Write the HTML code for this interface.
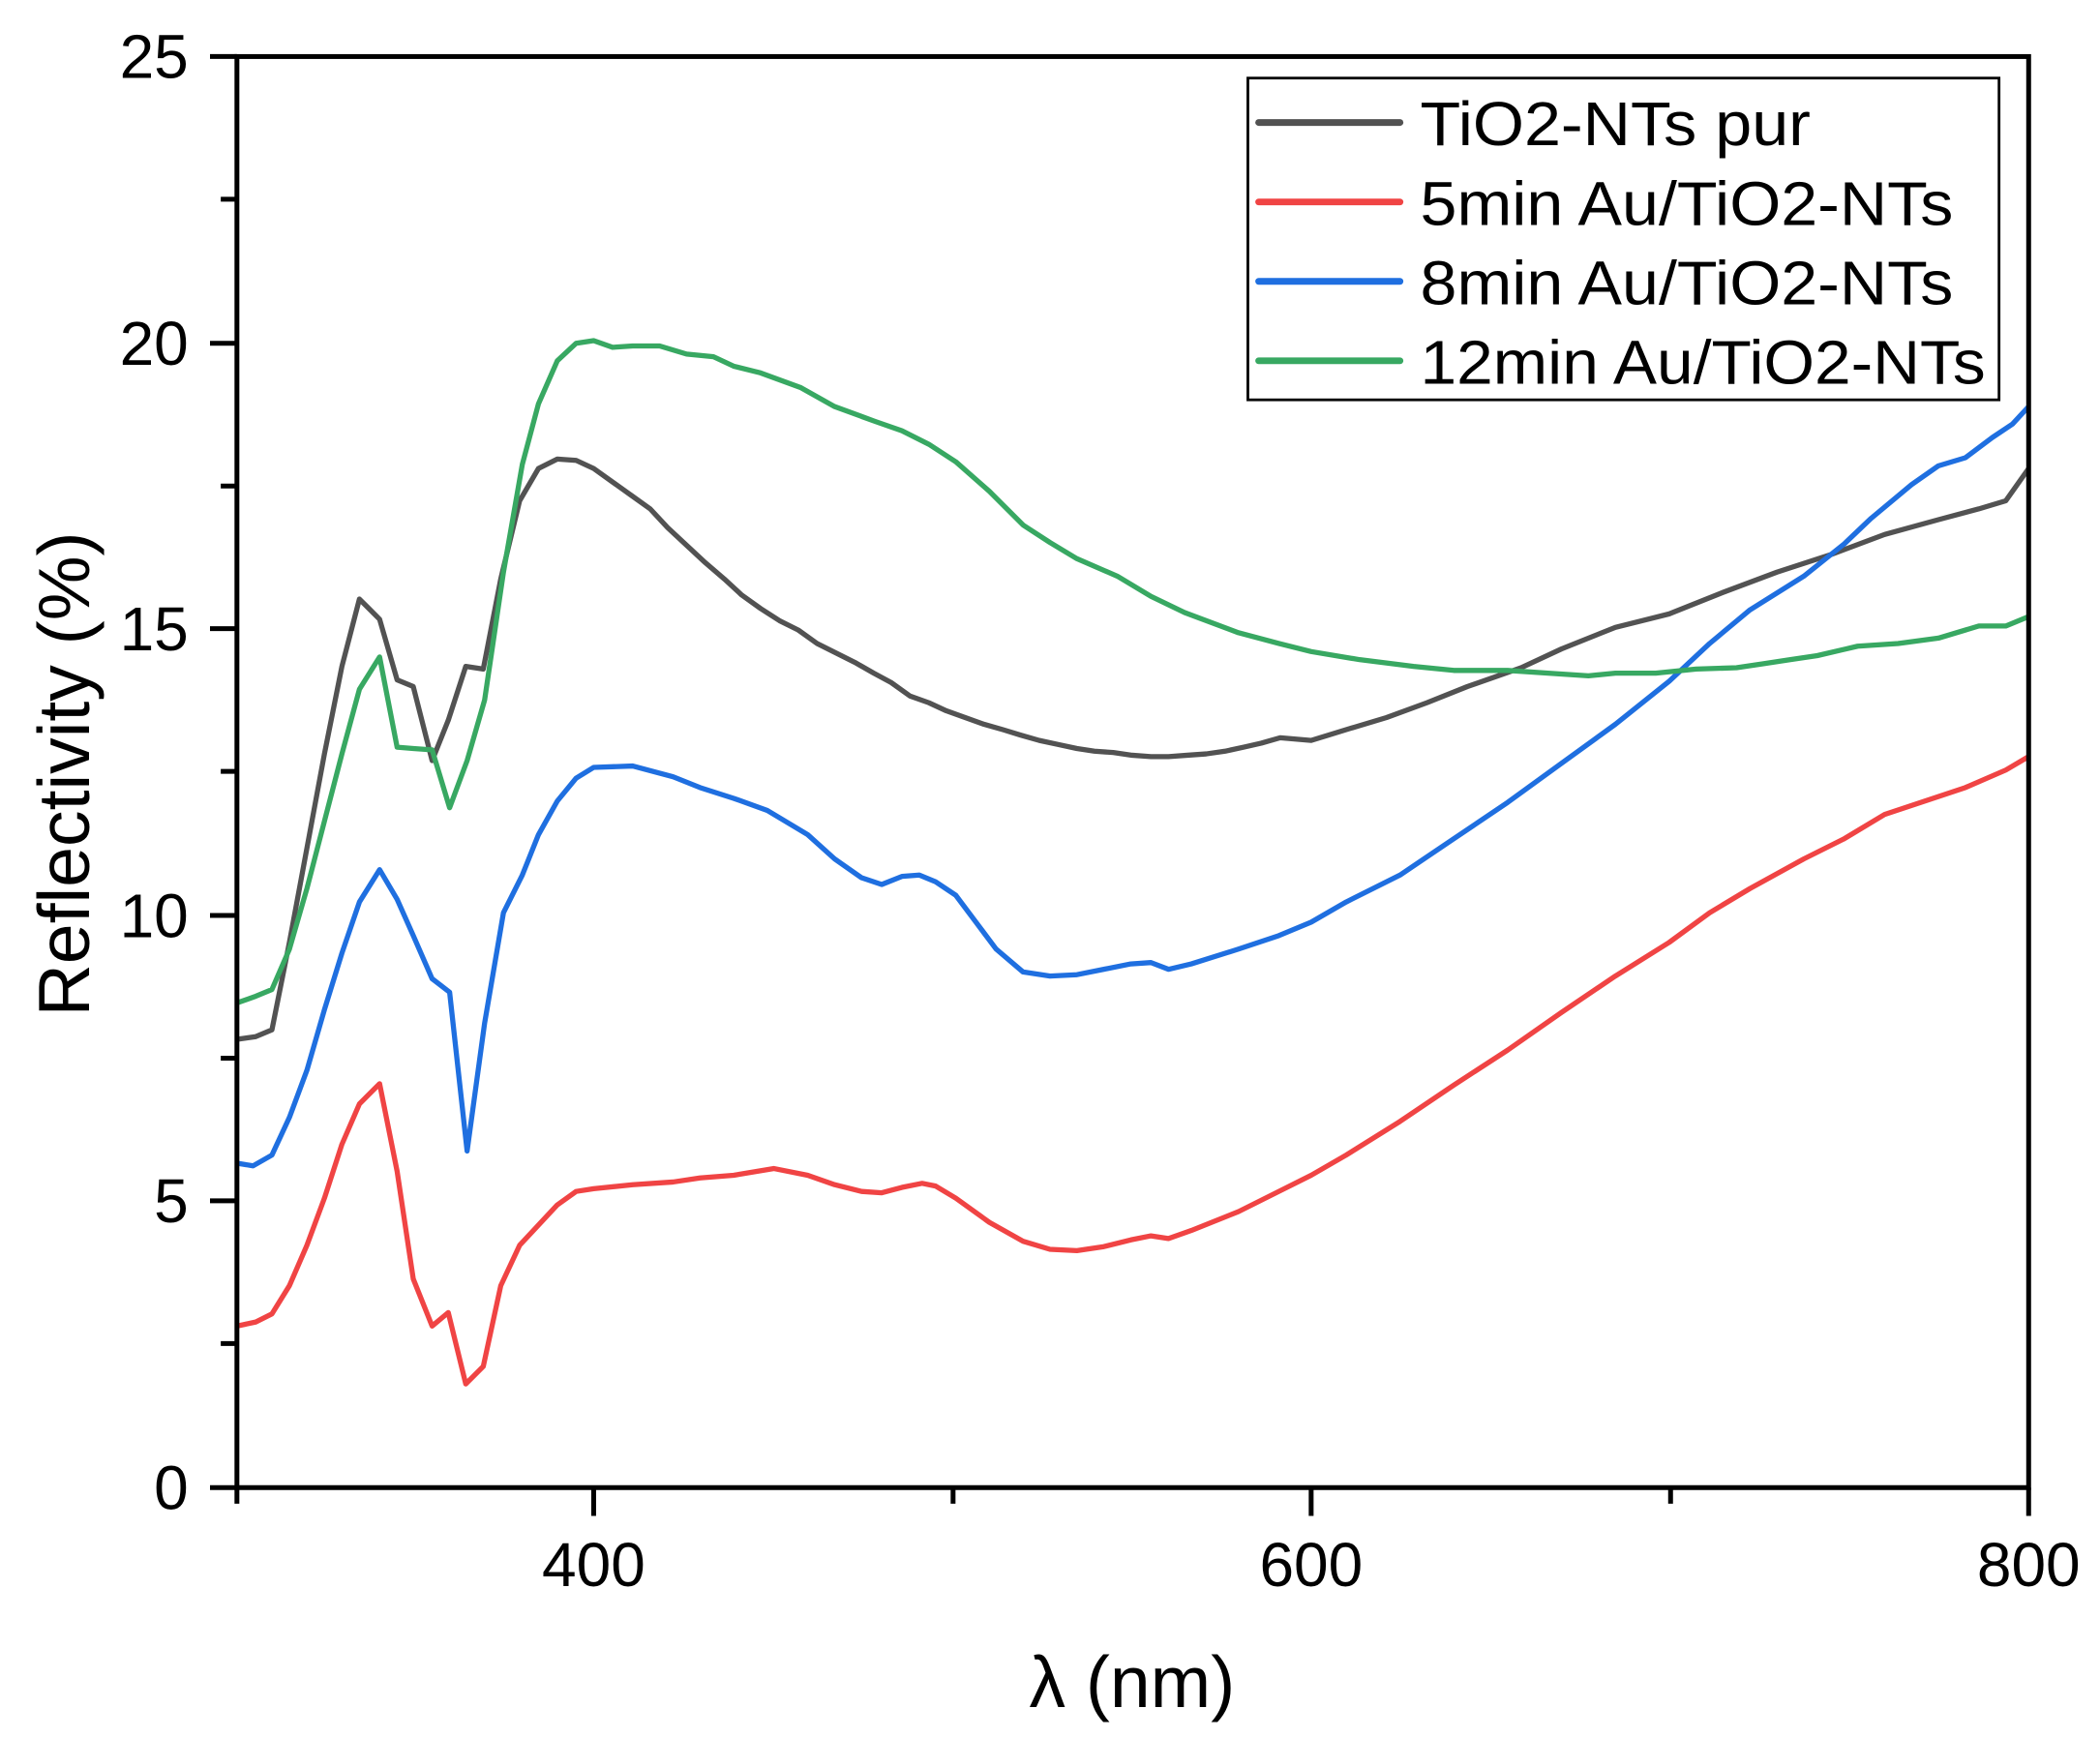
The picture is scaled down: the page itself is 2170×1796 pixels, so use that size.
<!DOCTYPE html>
<html><head><style>html,body{margin:0;padding:0;background:#fff}svg{display:block}</style></head>
<body>
<svg width="2170" height="1796" viewBox="0 0 1560 1291" preserveAspectRatio="none" xmlns="http://www.w3.org/2000/svg" font-family="Liberation Sans, Arial, sans-serif">
<rect width="1560" height="1291" fill="#fff"/>
<g fill="none" stroke-width="3.8" stroke-linejoin="round">
<polyline stroke="#525252" points="176,772 190,770 202,765 215,700 228,630 241,560 254,495 267,445 282,460 295,505 307,510 321,565 333,535 346,495 359,497 372,430 386,372 400,348 414,341 428,342 441,348 455,358 469,368 483,378 496,392 510,405 524,418 538,430 551,442 565,452 579,461 593,468 607,478 621,485 635,492 649,500 662,507 676,517 690,522 703,528 717,533 731,538 745,542 758,546 772,550 786,553 800,556 813,558 827,559 841,561 855,562 868,562 882,561 896,560 910,558 924,555 937,552 951,548 974,550 1000,542 1030,533 1060,522 1090,510 1130,496 1160,482 1200,466 1240,456 1280,440 1320,425 1360,412 1400,397 1440,386 1470,378 1490,372 1507,348"/>
<polyline stroke="#f04444" points="176,985 190,982 202,976 215,955 228,925 241,890 254,850 267,820 282,805 295,870 307,950 321,985 333,975 346,1028 359,1015 372,955 386,925 400,910 414,895 428,885 441,883 470,880 500,878 520,875 545,873 575,868 600,873 620,880 640,885 655,886 670,882 685,879 695,881 710,890 735,908 760,922 780,928 800,929 820,926 840,921 855,918 868,920 885,914 920,900 950,885 974,873 1000,858 1040,833 1080,806 1120,780 1160,752 1200,725 1240,700 1270,678 1300,660 1340,638 1370,623 1400,605 1430,595 1460,585 1490,572 1507,562"/>
<polyline stroke="#1f6fe0" points="176,864 188,866 202,858 215,830 228,795 241,750 254,708 267,670 282,646 295,668 307,695 321,727 334,737 347,855 360,760 374,678 388,650 400,620 414,595 428,578 441,570 470,569 500,577 520,585 545,593 570,602 600,620 620,638 640,652 655,657 670,651 683,650 695,655 710,665 725,685 740,705 760,722 780,725 800,724 820,720 840,716 855,715 868,720 885,716 920,705 950,695 974,685 1000,670 1040,650 1080,623 1120,596 1160,567 1200,538 1220,522 1240,506 1270,478 1300,453 1340,428 1370,404 1390,385 1420,360 1440,346 1460,340 1480,325 1495,315 1507,302"/>
<polyline stroke="#38a862" points="176,745 190,740 202,735 215,705 228,660 241,610 254,560 267,512 282,488 295,555 307,556 321,557 334,600 347,565 360,520 374,425 388,345 400,300 414,268 428,255 441,253 455,258 470,257 490,257 510,263 530,265 545,272 565,277 595,288 620,302 650,313 670,320 690,330 710,343 735,365 760,390 780,403 800,415 830,428 855,443 880,455 920,470 950,478 974,484 1010,490 1050,495 1080,498 1120,498 1150,500 1180,502 1200,500 1230,500 1260,497 1290,496 1310,493 1330,490 1350,487 1380,480 1410,478 1440,474 1470,465 1490,465 1507,458"/>
</g>
<g stroke="#000" stroke-width="3.6" fill="none">
<rect x="176" y="42" width="1331" height="1063"/>
<path d="M156,1105H176M156,892H176M156,680H176M156,467H176M156,255H176M156,42H176"/>
<path d="M164,998H176M164,786H176M164,573H176M164,361H176M164,148H176"/>
<path d="M176,1105V1117M708,1105V1117M1241,1105V1117M441,1105V1126M974,1105V1126M1507,1105V1126"/>
</g>
<g font-size="46" text-anchor="end" fill="#000">
<text x="140" y="1121">0</text><text x="140" y="908">5</text><text x="140" y="696">10</text><text x="140" y="483">15</text><text x="140" y="271">20</text><text x="140" y="58">25</text>
</g>
<g font-size="46" text-anchor="middle" fill="#000">
<text x="441" y="1178">400</text><text x="974" y="1178">600</text><text x="1507" y="1178">800</text>
<text x="841" y="1268" font-size="54">λ (nm)</text>
<text transform="translate(66,575) rotate(-90)" font-size="54">Reflectivity (%)</text>
</g>
<rect x="927" y="58" width="558" height="239" fill="#fff" stroke="#000" stroke-width="2"/>
<g stroke-width="5" stroke-linecap="round">
<line x1="935" y1="91" x2="1040" y2="91" stroke="#525252"/>
<line x1="935" y1="150" x2="1040" y2="150" stroke="#f04444"/>
<line x1="935" y1="209" x2="1040" y2="209" stroke="#1f6fe0"/>
<line x1="935" y1="268" x2="1040" y2="268" stroke="#38a862"/>
</g>
<g font-size="46" fill="#000">
<text x="1055" y="108" textLength="290" lengthAdjust="spacingAndGlyphs">TiO2-NTs pur</text>
<text x="1055" y="167" textLength="396" lengthAdjust="spacingAndGlyphs">5min Au/TiO2-NTs</text>
<text x="1055" y="226" textLength="396" lengthAdjust="spacingAndGlyphs">8min Au/TiO2-NTs</text>
<text x="1055" y="285" textLength="420" lengthAdjust="spacingAndGlyphs">12min Au/TiO2-NTs</text>
</g>
</svg>
</body></html>
